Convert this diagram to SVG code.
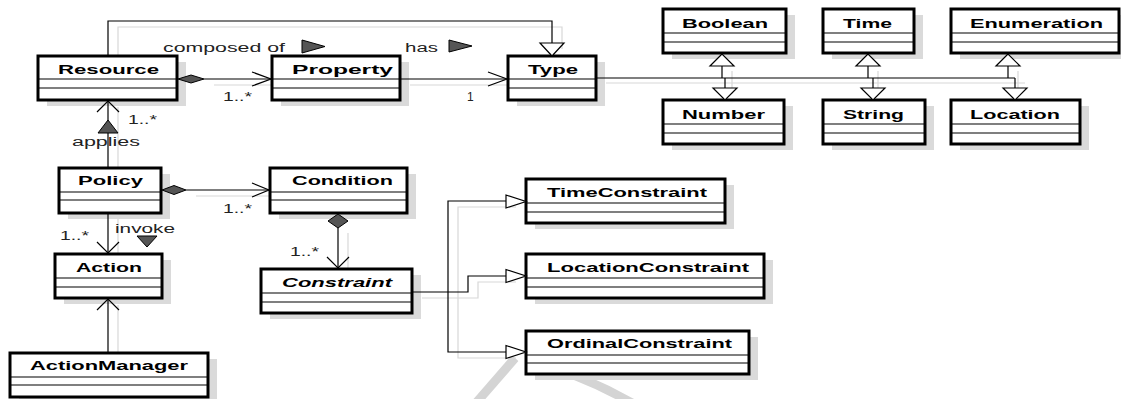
<svg xmlns="http://www.w3.org/2000/svg" width="1121" height="399" viewBox="0 0 1121 399">
<style>
.bg{fill:#fff}
.sd{fill:#dadada}
.box{fill:#fff;stroke:#000;stroke-width:3}
.dv{stroke:#000;stroke-width:1.2}
.nm{font-family:"Liberation Sans",Arial,sans-serif;font-weight:bold;font-size:13px;fill:#000}
.it{font-style:italic}
.lb{font-family:"Liberation Sans",Arial,sans-serif;font-size:12px;fill:#222}
.ln{fill:none;stroke:#000;stroke-width:1.2}
.gen{fill:#fff;stroke:#000;stroke-width:1.2}
.dia{fill:#555;stroke:#000;stroke-width:1}
.sl{fill:none;stroke:#d8d8d8;stroke-width:1.2}
.wm{fill:none;stroke:#d4d4d4;stroke-width:9}
</style>
<rect class="bg" x="0" y="0" width="1121" height="399"/>
<g id="watermark">
<path class="wm" d="M476,403 L515,358"/>
<path class="wm" d="M531,361 Q585,376 632,403"/>
</g>
<g id="connector-shadows">
<path class="sl" d="M118,56 V27 H562 V49"/>
<path class="sl" d="M214,85 H281"/>
<path class="sl" d="M410,85 H517"/>
<path class="sl" d="M606,83 H1025"/>
<path class="sl" d="M732,71 V94 M878,71 V94 M1018,71 V94"/>
<path class="sl" d="M118,174 V107"/>
<path class="sl" d="M196,196 H279"/>
<path class="sl" d="M348,233 V275"/>
<path class="sl" d="M118,219 V259"/>
<path class="sl" d="M118,359 V305"/>
<path class="sl" d="M422,298 H478 V282 H516 M516,207 H458 V358 H516"/>
</g>
<g id="resource">
<rect class="sd" x="47" y="62" width="139" height="44"/>
<rect class="box" x="38" y="56" width="139" height="44"/>
<path class="dv" d="M38,79 H177 M38,88 H177"/>
<text class="nm" x="58" y="74" textLength="101" lengthAdjust="spacingAndGlyphs">Resource</text>
</g>
<g id="property">
<rect class="sd" x="281" y="62" width="128" height="44"/>
<rect class="box" x="272" y="56" width="128" height="44"/>
<path class="dv" d="M272,79 H400 M272,88 H400"/>
<text class="nm" x="292" y="74" textLength="101" lengthAdjust="spacingAndGlyphs">Property</text>
</g>
<g id="type">
<rect class="sd" x="517" y="62" width="88" height="44"/>
<rect class="box" x="508" y="56" width="88" height="44"/>
<path class="dv" d="M508,79 H596 M508,88 H596"/>
<text class="nm" x="528" y="74" textLength="50" lengthAdjust="spacingAndGlyphs">Type</text>
</g>
<g id="boolean">
<rect class="sd" x="672" y="15" width="123" height="44"/>
<rect class="box" x="663" y="9" width="123" height="44"/>
<path class="dv" d="M663,33 H786 M663,42 H786"/>
<text class="nm" x="682" y="28" textLength="86" lengthAdjust="spacingAndGlyphs">Boolean</text>
</g>
<g id="time">
<rect class="sd" x="832" y="15" width="91" height="44"/>
<rect class="box" x="823" y="9" width="91" height="44"/>
<path class="dv" d="M823,33 H914 M823,42 H914"/>
<text class="nm" x="843" y="28" textLength="49" lengthAdjust="spacingAndGlyphs">Time</text>
</g>
<g id="enumeration">
<rect class="sd" x="960" y="15" width="168" height="44"/>
<rect class="box" x="951" y="9" width="168" height="44"/>
<path class="dv" d="M951,33 H1119 M951,42 H1119"/>
<text class="nm" x="970" y="28" textLength="133" lengthAdjust="spacingAndGlyphs">Enumeration</text>
</g>
<g id="number">
<rect class="sd" x="672" y="106" width="121" height="44"/>
<rect class="box" x="663" y="100" width="121" height="44"/>
<path class="dv" d="M663,124 H784 M663,133 H784"/>
<text class="nm" x="682" y="119" textLength="83" lengthAdjust="spacingAndGlyphs">Number</text>
</g>
<g id="string">
<rect class="sd" x="832" y="106" width="102" height="44"/>
<rect class="box" x="823" y="100" width="102" height="44"/>
<path class="dv" d="M823,124 H925 M823,133 H925"/>
<text class="nm" x="843" y="119" textLength="61" lengthAdjust="spacingAndGlyphs">String</text>
</g>
<g id="location">
<rect class="sd" x="960" y="106" width="129" height="44"/>
<rect class="box" x="951" y="100" width="129" height="44"/>
<path class="dv" d="M951,124 H1080 M951,133 H1080"/>
<text class="nm" x="970" y="119" textLength="90" lengthAdjust="spacingAndGlyphs">Location</text>
</g>
<g id="policy">
<rect class="sd" x="68" y="174" width="102" height="45"/>
<rect class="box" x="59" y="168" width="102" height="45"/>
<path class="dv" d="M59,192 H161 M59,200 H161"/>
<text class="nm" x="78" y="185" textLength="65" lengthAdjust="spacingAndGlyphs">Policy</text>
</g>
<g id="condition">
<rect class="sd" x="279" y="174" width="137" height="45"/>
<rect class="box" x="270" y="168" width="137" height="45"/>
<path class="dv" d="M270,192 H407 M270,200 H407"/>
<text class="nm" x="292" y="185" textLength="101" lengthAdjust="spacingAndGlyphs">Condition</text>
</g>
<g id="action">
<rect class="sd" x="64" y="260" width="107" height="44"/>
<rect class="box" x="55" y="254" width="107" height="44"/>
<path class="dv" d="M55,278 H162 M55,287 H162"/>
<text class="nm" x="76" y="272" textLength="66" lengthAdjust="spacingAndGlyphs">Action</text>
</g>
<g id="actionmanager">
<rect class="sd" x="19" y="359" width="198" height="44"/>
<rect class="box" x="10" y="353" width="198" height="44"/>
<path class="dv" d="M10,377 H208 M10,385 H208"/>
<text class="nm" x="30" y="370" textLength="158" lengthAdjust="spacingAndGlyphs">ActionManager</text>
</g>
<g id="constraint">
<rect class="sd" x="270" y="275" width="151" height="44"/>
<rect class="box" x="261" y="269" width="151" height="44"/>
<path class="dv" d="M261,293 H412 M261,302 H412"/>
<text class="nm it" x="282" y="287" textLength="110" lengthAdjust="spacingAndGlyphs">Constraint</text>
</g>
<g id="timeconstraint">
<rect class="sd" x="535" y="185" width="199" height="44"/>
<rect class="box" x="526" y="179" width="199" height="44"/>
<path class="dv" d="M526,203 H725 M526,212 H725"/>
<text class="nm" x="547" y="197" textLength="160" lengthAdjust="spacingAndGlyphs">TimeConstraint</text>
</g>
<g id="locationconstraint">
<rect class="sd" x="535" y="260" width="238" height="44"/>
<rect class="box" x="526" y="254" width="238" height="44"/>
<path class="dv" d="M526,278 H764 M526,287 H764"/>
<text class="nm" x="547" y="272" textLength="202" lengthAdjust="spacingAndGlyphs">LocationConstraint</text>
</g>
<g id="ordinalconstraint">
<rect class="sd" x="535" y="337" width="223" height="43"/>
<rect class="box" x="526" y="331" width="223" height="43"/>
<path class="dv" d="M526,355 H749 M526,363 H749"/>
<text class="nm" x="547" y="348" textLength="185" lengthAdjust="spacingAndGlyphs">OrdinalConstraint</text>
</g>
<g id="connectors">
<!-- Resource generalization to Type -->
<path class="ln" d="M108,56 V21 H552 V43"/>
<polygon class="gen" points="540,43 564,43 552,56"/>
<!-- Resource composed of Property -->
<path class="ln" d="M204,79 H271"/>
<polygon class="dia" points="178,79 191,75 204,79 191,83"/>
<path class="ln" d="M252,72 L271,79 L252,86"/>
<text class="lb" x="163" y="52" textLength="122" lengthAdjust="spacingAndGlyphs">composed of</text>
<polygon class="dia" points="302,40 325,46.5 302,53"/>
<text class="lb" x="223" y="101" textLength="29" lengthAdjust="spacingAndGlyphs">1..*</text>
<!-- Property has Type -->
<path class="ln" d="M400,79 H507"/>
<path class="ln" d="M488,72 L507,79 L488,86"/>
<text class="lb" x="405" y="52" textLength="33" lengthAdjust="spacingAndGlyphs">has</text>
<polygon class="dia" points="449,40 472,46 449,52"/>
<text class="lb" x="467" y="101">1</text>
<!-- Type hierarchy -->
<path class="ln" d="M596,78 H1015"/>
<path class="ln" d="M722,66 V78 M725,78 V88"/>
<polygon class="gen" points="722,54 710,66 734,66"/>
<polygon class="gen" points="713,88 737,88 725,100"/>
<path class="ln" d="M868,66 V78 M873,78 V88"/>
<polygon class="gen" points="868,54 856,66 880,66"/>
<polygon class="gen" points="861,88 885,88 873,100"/>
<path class="ln" d="M1008,66 V78 M1015,78 V88"/>
<polygon class="gen" points="1008,54 996,66 1020,66"/>
<polygon class="gen" points="1003,88 1027,88 1015,100"/>
<!-- Policy applies Resource -->
<path class="ln" d="M108,168 V101"/>
<path class="ln" d="M97,112 L108,101 L119,112"/>
<polygon class="dia" points="108,120 98,133 118,133"/>
<text class="lb" x="128" y="124" textLength="29" lengthAdjust="spacingAndGlyphs">1..*</text>
<text class="lb" x="72" y="146" textLength="68" lengthAdjust="spacingAndGlyphs">applies</text>
<!-- Policy composed of Condition -->
<path class="ln" d="M186,190 H269"/>
<polygon class="dia" points="162,190 174,185.5 186,190 174,194.5"/>
<path class="ln" d="M252,183 L269,190 L252,197"/>
<text class="lb" x="223" y="213" textLength="29" lengthAdjust="spacingAndGlyphs">1..*</text>
<!-- Condition composed of Constraint -->
<path class="ln" d="M338,228 V268"/>
<polygon class="dia" points="338,214 348,221 338,228 328,221"/>
<path class="ln" d="M327,257 L338,268 L349,257"/>
<text class="lb" x="290" y="256" textLength="29" lengthAdjust="spacingAndGlyphs">1..*</text>
<!-- Policy invoke Action -->
<path class="ln" d="M108,213 V253"/>
<path class="ln" d="M97,242 L108,253 L119,242"/>
<text class="lb" x="60" y="240" textLength="29" lengthAdjust="spacingAndGlyphs">1..*</text>
<text class="lb" x="115" y="233" textLength="60" lengthAdjust="spacingAndGlyphs">invoke</text>
<polygon class="dia" points="137,236 157,236 147,247"/>
<!-- ActionManager to Action -->
<path class="ln" d="M108,353 V299"/>
<path class="ln" d="M97,310 L108,299 L119,310"/>
<!-- Constraint specializations -->
<path class="ln" d="M412,292 H468 V276 H506"/>
<path class="ln" d="M506,201 H448 V352 H506"/>
<polygon class="gen" points="506,195 526,201.5 506,208"/>
<polygon class="gen" points="506,269.5 526,276 506,282.5"/>
<polygon class="gen" points="506,345.5 526,352 506,358.5"/>
</g>
</svg>
